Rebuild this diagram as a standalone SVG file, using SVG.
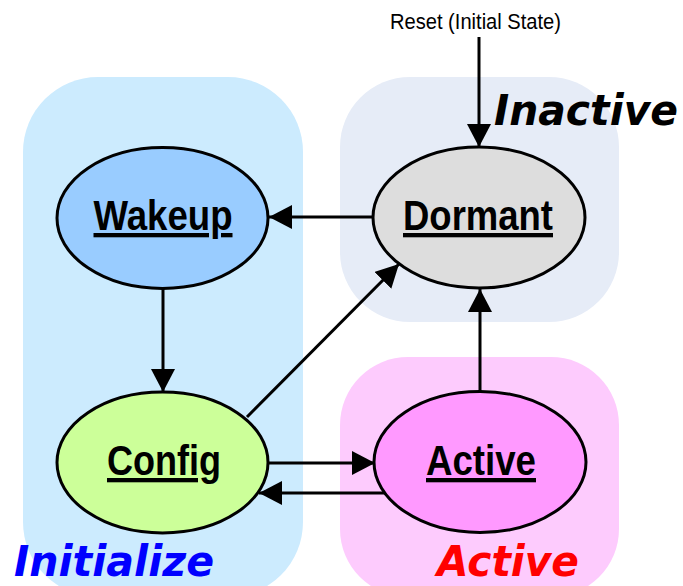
<svg xmlns="http://www.w3.org/2000/svg" width="683" height="586" viewBox="0 0 683 586">
<style>
.node ellipse{stroke:#000;stroke-width:3}
.lbl{font-family:"Liberation Sans Narrow","Liberation Sans",Arial,sans-serif;font-weight:bold;font-size:43px;text-anchor:middle;text-decoration:underline;text-decoration-skip-ink:none;fill:#000}
.grp{font-family:"DejaVu Sans",Verdana,sans-serif;font-weight:bold;font-style:italic;font-size:42px}
.conn line{stroke:#000;stroke-width:3;fill:none}
.arr{marker-end:url(#ah)}
</style>
<defs>
<marker id="ah" markerUnits="userSpaceOnUse" markerWidth="24" markerHeight="24" refX="23" refY="12" orient="auto" viewBox="0 0 24 24">
<path d="M0,0 L23,12 L0,24 Z" fill="#000"/>
</marker>
</defs>
<rect width="683" height="586" fill="#fff"/>
<g id="region-initialize">
<rect x="23" y="77" width="280" height="520" rx="75" ry="75" fill="#CCEBFE"/>
<text class="grp" x="14" y="576" fill="#0000FF" textLength="200" lengthAdjust="spacingAndGlyphs">Initialize</text>
</g>
<g id="region-inactive">
<rect x="340" y="77" width="279" height="245" rx="70" ry="70" fill="#E6ECF7"/>
</g>
<g id="region-active">
<rect x="340" y="357" width="279" height="240" rx="68" ry="68" fill="#FDCBFD"/>
<text class="grp" x="437" y="576" fill="#FF0000" textLength="142" lengthAdjust="spacingAndGlyphs">Active</text>
</g>
<g class="conn" id="connectors">
<line class="arr" x1="479" y1="37" x2="479" y2="147"/>
<line class="arr" x1="373" y1="217" x2="269" y2="217"/>
<line class="arr" x1="163" y1="289" x2="163" y2="392"/>
<line class="arr" x1="247" y1="417" x2="399" y2="264"/>
<line class="arr" x1="480" y1="392" x2="480" y2="289"/>
<line class="arr" x1="268" y1="463" x2="375" y2="463"/>
<line class="arr" x1="385" y1="493" x2="259" y2="493"/>
</g>
<g id="reset-label">
<text x="475.5" y="29" font-family="Liberation Sans Narrow,Liberation Sans,Arial,sans-serif" font-size="22" text-anchor="middle" textLength="171" lengthAdjust="spacingAndGlyphs">Reset (Initial State)</text>
</g>
<g id="inactive-label">
<text class="grp" x="494" y="125" fill="#000" textLength="184" lengthAdjust="spacingAndGlyphs">Inactive</text>
</g>
<g class="node" id="node-wakeup">
<ellipse cx="162.5" cy="218" rx="105.5" ry="70.5" fill="#99CCFF"/>
<text class="lbl" x="163" y="230" textLength="139" lengthAdjust="spacingAndGlyphs">Wakeup</text>
</g>
<g class="node" id="node-dormant">
<ellipse cx="479" cy="217.5" rx="106" ry="70.5" fill="#DDDDDD"/>
<text class="lbl" x="478" y="230" textLength="150" lengthAdjust="spacingAndGlyphs">Dormant</text>
</g>
<g class="node" id="node-config">
<ellipse cx="162.5" cy="462.5" rx="105.5" ry="70.5" fill="#CCFF99"/>
<text class="lbl" x="164" y="475" textLength="114" lengthAdjust="spacingAndGlyphs">Config</text>
</g>
<g class="node" id="node-active">
<ellipse cx="480" cy="462" rx="106" ry="70.5" fill="#FF99FF"/>
<text class="lbl" x="481" y="475" textLength="110" lengthAdjust="spacingAndGlyphs">Active</text>
</g>
</svg>
